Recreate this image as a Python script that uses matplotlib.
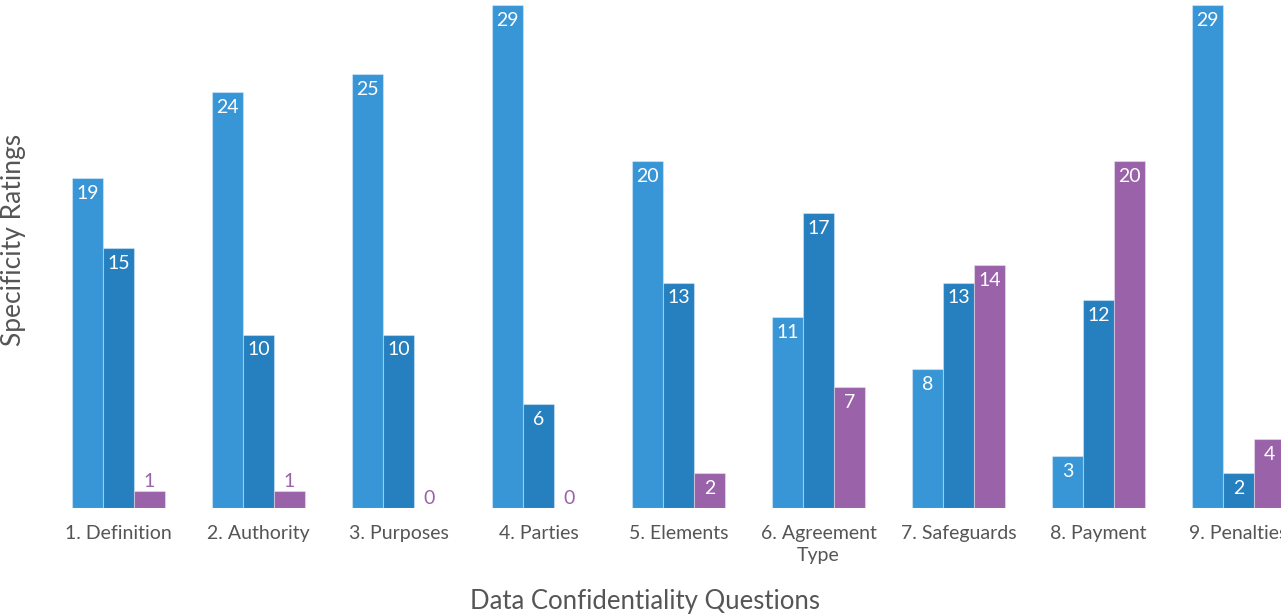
import matplotlib
matplotlib.use("Agg")
import matplotlib.pyplot as plt
import numpy as np

categories = ["1. Definition", "2. Authority", "3. Purposes", "4. Parties", "5. Elements",
              "6. Agreement\nType", "7. Safeguards", "8. Payment", "9. Penalties"]
series_a = [19, 24, 25, 29, 20, 11, 8, 3, 29]
series_b = [15, 10, 10, 6, 13, 17, 13, 12, 2]
series_c = [1, 1, 0, 0, 2, 7, 14, 20, 4]

colors = ["#3996d6", "#2680c0", "#9a62a9"]
label_colors = ["#3996d6", "#2680c0", "#9a62a9"]

plt.rcParams['font.family'] = ['Lato', 'DejaVu Sans']

fig = plt.figure(figsize=(12.81, 6.14), dpi=100)
W, H = 1281, 614
left_px, right_px, top_px, bot_px = 48.5, 1281, 5, 508
ax = fig.add_axes([left_px / W, 1 - bot_px / H, (right_px - left_px) / W, (bot_px - top_px) / H])

x = np.arange(len(categories))
bw = 31 / 140
offsets = [-bw, 0, bw]
all_series = [series_a, series_b, series_c]
px_per_unit = (bot_px - top_px) / 29.0

for s, (vals, off, c) in enumerate(zip(all_series, offsets, colors)):
    bars = ax.bar(x + off, vals, width=bw, color=c, edgecolor=(1, 1, 1, 0.35), linewidth=0.8)
    for xi, v in zip(x + off, vals):
        if v * px_per_unit >= 30:
            ax.annotate(str(v), (xi, v), xytext=(0, -5), textcoords="offset points",
                        ha="center", va="top", color="white", fontsize=14, clip_on=False)
        else:
            ax.annotate(str(v), (xi, v), xytext=(0, 0.5), textcoords="offset points",
                        ha="center", va="bottom", color=label_colors[s], fontsize=14)

ax.set_xlim(-0.5, (right_px - 118.5) / 140)
ax.set_ylim(0, 29)
ax.set_xticks(x)
ax.set_xticklabels(categories, fontsize=14, color="#555555", linespacing=1.35)
ax.tick_params(axis="x", length=0, pad=12)
ax.set_yticks([])
for sp in ax.spines.values():
    sp.set_visible(False)

fig.text(645 / W, 1 - 601 / H, "Data Confidentiality Questions", ha="center", va="center",
         fontsize=18.5, color="#555555")
fig.text(14 / W, 1 - 240 / H, "Specificity Ratings", ha="center", va="center",
         rotation=90, fontsize=19, color="#555555")

fig.savefig("out.png", dpi=100)
